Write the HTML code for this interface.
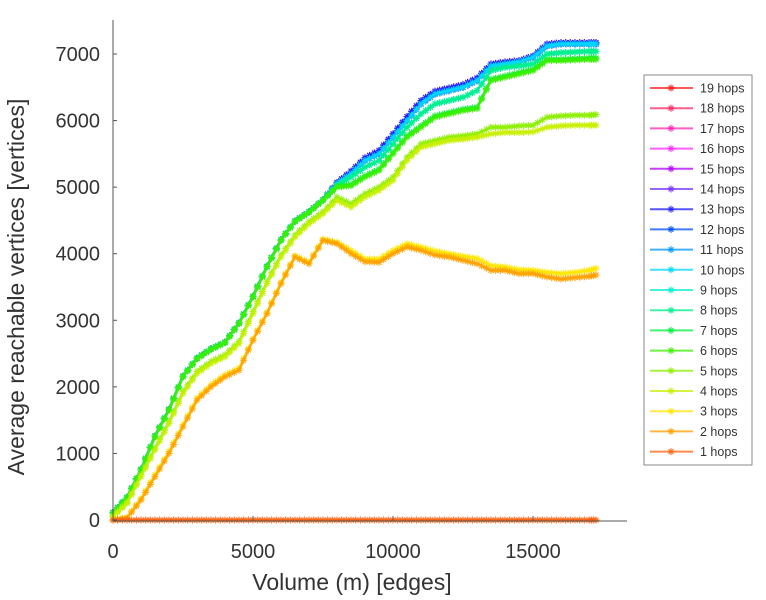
<!DOCTYPE html>
<html><head><meta charset="utf-8"><style>
body{margin:0;background:#fff;width:766px;height:600px;overflow:hidden}
svg{display:block;font-family:"Liberation Sans",sans-serif}
</style></head><body>
<svg id="chart" width="766" height="600">
<g id="plot"></g>
<g id="axes"></g>
<g id="legend"></g>
</svg>
<script>
const xs=[0,500,1000,1500,2000,2500,3000,3500,4000,4500,5000,5500,6000,6500,7000,7500,8000,8500,9000,9500,10000,10500,11000,11500,12000,12500,13000,13500,14000,14500,15000,15500,16000,16500,17000,17250];
const hop1=xs.map(()=>0);
const hop2=[0,30,300,650,1000,1400,1800,2000,2150,2250,2700,3100,3550,3950,3850,4200,4150,4000,3880,3870,4000,4100,4050,3980,3950,3900,3850,3750,3750,3700,3700,3650,3620,3640,3660,3680];
const hop3=[0,40,320,680,1030,1430,1830,2030,2180,2280,2720,3120,3570,3970,3870,4220,4170,4050,3920,3920,4050,4150,4100,4040,4000,3960,3930,3820,3800,3760,3750,3720,3700,3720,3750,3780];
const hop4=[50,250,650,1050,1450,1900,2200,2350,2450,2650,3100,3550,3950,4250,4450,4600,4800,4700,4850,4950,5100,5400,5600,5650,5700,5720,5750,5800,5820,5820,5830,5900,5920,5930,5930,5930];
const hop5=[60,270,680,1080,1480,1930,2230,2380,2480,2680,3130,3580,3980,4280,4480,4630,4850,4750,4900,5000,5150,5450,5650,5700,5750,5770,5800,5900,5900,5920,5930,6050,6070,6080,6080,6090];
const hop6=[100,330,750,1250,1650,2150,2420,2560,2660,2950,3350,3800,4200,4480,4620,4800,5000,5020,5150,5250,5500,5750,5900,6050,6100,6150,6180,6600,6650,6700,6750,6900,6900,6910,6920,6920];
const hop7=[110,340,760,1260,1660,2160,2430,2570,2670,2960,3360,3810,4210,4490,4630,4810,5010,5040,5170,5270,5520,5770,5920,6070,6120,6170,6200,6620,6670,6720,6770,6920,6920,6930,6940,6940];
const hop8=[110,340,760,1260,1660,2160,2430,2570,2670,2960,3360,3810,4210,4490,4630,4810,5030,5150,5300,5400,5650,5900,6100,6250,6300,6350,6450,6750,6800,6820,6850,7000,7020,7030,7040,7040];
const hop10=[110,340,760,1260,1660,2160,2430,2570,2670,2960,3360,3810,4210,4490,4630,4810,5050,5200,5400,5500,5750,6000,6250,6400,6450,6500,6600,6820,6850,6880,6950,7120,7150,7150,7150,7150];
const hop13=[110,340,760,1260,1660,2160,2430,2570,2670,2960,3360,3810,4210,4490,4630,4810,5070,5240,5440,5550,5800,6060,6300,6440,6490,6540,6640,6850,6880,6900,6970,7150,7170,7170,7170,7170];
const series=[hop1,hop2,hop3,hop4,hop5,hop6,hop7,hop8,hop8,hop10,hop10,hop10,hop13,hop13,hop10,hop10,hop10,hop10,hop10];
const hopLabels=["1 hops","2 hops","3 hops","4 hops","5 hops","6 hops","7 hops","8 hops","9 hops","10 hops","11 hops","12 hops","13 hops","14 hops","15 hops","16 hops","17 hops","18 hops","19 hops"];
const colors=["#ff6414","#ffa000","#ffe600","#c8f000","#8cf000","#3cf000","#00f03c","#00f08c","#00f0d2","#00d7ff","#0096ff","#0050ff","#1e1eff","#7832ff","#b400ff","#ff28ff","#ff28b4","#ff2864","#ff1e1e"];
const xTicks=[0,5000,10000,15000];
const yTicks=[0,1000,2000,3000,4000,5000,6000,7000];
const X0=113,X1=627,Y0=520,YT=20;
const xS=v=>X0+v*0.028;
const yS=v=>Y0-v*(466/7000);
const NS="http://www.w3.org/2000/svg";
function mk(t,a,p){const e=document.createElementNS(NS,t);for(const k in a)e.setAttribute(k,a[k]);p.appendChild(e);return e;}
function star(g,x,y,c,r){mk('path',{d:`M${x-r},${y}H${x+r}M${x},${y-r}V${y+r}M${x-r*.7},${y-r*.7}L${x+r*.7},${y+r*.7}M${x-r*.7},${y+r*.7}L${x+r*.7},${y-r*.7}`,stroke:c,'stroke-width':1.2,fill:'none',opacity:0.85},g);}
const plot=document.getElementById('plot');
for(let i=series.length-1;i>=0;i--){
  const s=series[i];
  const g=mk('g',{},plot);
  
  
  mk('polyline',{points:s.map((v,j)=>xS(xs[j])+','+yS(v)).join(' '),fill:'none',stroke:colors[i],'stroke-width':2.5,'stroke-linejoin':'round',opacity:0.85},g);
  for(let j=0;j<s.length;j++){
    star(g,xS(xs[j]),yS(s[j]),colors[i],3.5);
    if(j<s.length-1){
      for(const f of [0.33,0.67]) star(g,xS(xs[j])+(xS(xs[j+1])-xS(xs[j]))*f,yS(s[j])+(yS(s[j+1])-yS(s[j]))*f,colors[i],3.5);
    }
  }
}
const ax=document.getElementById('axes');
mk('line',{x1:X0,y1:YT,x2:X0,y2:Y0+1,stroke:'#555','stroke-width':1},ax);
mk('line',{x1:X0,y1:Y0+1,x2:X1,y2:Y0+1,stroke:'#555','stroke-width':1},ax);
xTicks.forEach(v=>{
  mk('line',{x1:xS(v),y1:Y0+1,x2:xS(v),y2:Y0-4,stroke:'#555'},ax);
  const t=mk('text',{x:xS(v),y:558,'text-anchor':'middle','font-size':20,fill:'#333'},ax);
  t.textContent=v;
  
  
});
yTicks.forEach(v=>{
  mk('line',{x1:X0,y1:yS(v),x2:X0+4,y2:yS(v),stroke:'#555'},ax);
  const t=mk('text',{x:100,y:yS(v)+7,'text-anchor':'end','font-size':20,fill:'#333'},ax);
  t.textContent=v;
  
  
});
const xt=mk('text',{x:352,y:590,'text-anchor':'middle','font-size':23,fill:'#333'},ax);
xt.textContent='Volume (m) [edges]';


const yt=mk('text',{x:0,y:0,'text-anchor':'middle','font-size':23,fill:'#333',transform:'translate(24,287) rotate(-90)'},ax);
yt.textContent='Average reachable vertices [vertices]';


const lg=document.getElementById('legend');
mk('rect',{x:644,y:75,width:108,height:390,fill:'#fff',stroke:'#888','stroke-width':1},lg);
for(let k=0;k<19;k++){
  const i=18-k, y=88+k*20.2;
  const g=mk('g',{},lg);
  
  
  mk('line',{x1:650,y1:y,x2:693,y2:y,stroke:colors[i],'stroke-width':2,opacity:0.75},g);
  star(g,671,y,colors[i],3.5);
  const t=mk('text',{x:700,y:y+4.5,'font-size':12.5,fill:'#333'},g);
  t.textContent=hopLabels[i];
}
</script>
</body></html>
